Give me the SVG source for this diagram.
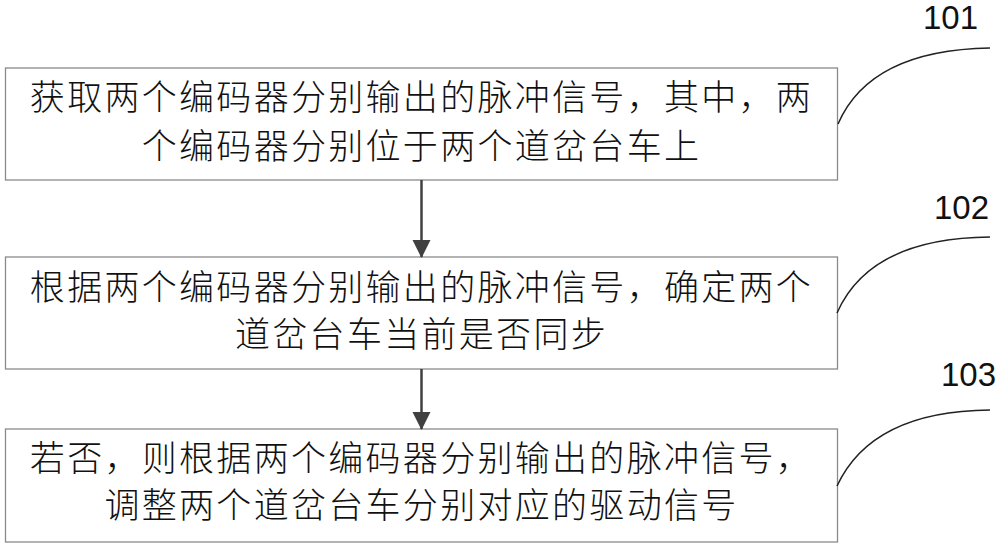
<svg xmlns="http://www.w3.org/2000/svg" width="1000" height="548" viewBox="0 0 1000 548">
<defs>
<style>
.box{fill:#fff;stroke:#8a8a8a;stroke-width:1.3}
.t{font-family:"Noto Sans CJK SC","Noto Sans CJK JP",sans-serif;font-size:35px;font-weight:300;letter-spacing:2.3px;fill:#111;text-anchor:middle}
.num{font-family:"Liberation Sans","Arial",sans-serif;font-size:33px;fill:#111}
.lead{fill:none;stroke:#222;stroke-width:1.5}
.conn{stroke:#404040;stroke-width:2.5;fill:none}
</style>
<marker id="ah" markerWidth="18" markerHeight="20" refX="17" refY="9" orient="auto" markerUnits="userSpaceOnUse" viewBox="0 0 18 18">
<path d="M0,0 L18,9 L0,18 Z" fill="#404040"/>
</marker>
</defs>
<rect width="1000" height="548" fill="#fff"/>
<g id="node101">
<rect class="box" x="5.5" y="68" width="832" height="112"/>
<text class="t" x="421.5" y="110">获取两个编码器分别输出的脉冲信号，其中，两</text>
<text class="t" x="421.5" y="159">个编码器分别位于两个道岔台车上</text>
</g>
<g id="node102">
<rect class="box" x="5.5" y="257" width="832" height="112"/>
<text class="t" x="421.5" y="300">根据两个编码器分别输出的脉冲信号，确定两个</text>
<text class="t" x="421.5" y="347">道岔台车当前是否同步</text>
</g>
<g id="node103">
<rect class="box" x="5.5" y="429" width="832" height="113"/>
<text class="t" x="421.5" y="471">若否，则根据两个编码器分别输出的脉冲信号，</text>
<text class="t" x="421.5" y="518">调整两个道岔台车分别对应的驱动信号</text>
</g>
<g id="labels">
<text class="num" x="923" y="29">101</text>
<path class="lead" d="M838,124 Q870,50 990,48"/>
<text class="num" x="934" y="219">102</text>
<path class="lead" d="M837,313 Q870,238 990,237"/>
<text class="num" x="941" y="386">103</text>
<path class="lead" d="M837,486 Q872,411 990,410"/>
</g>
<g id="connectors">
<line class="conn" x1="421.5" y1="180" x2="421.5" y2="257" marker-end="url(#ah)"/>
<line class="conn" x1="421.5" y1="369" x2="421.5" y2="429" marker-end="url(#ah)"/>
</g>
</svg>
